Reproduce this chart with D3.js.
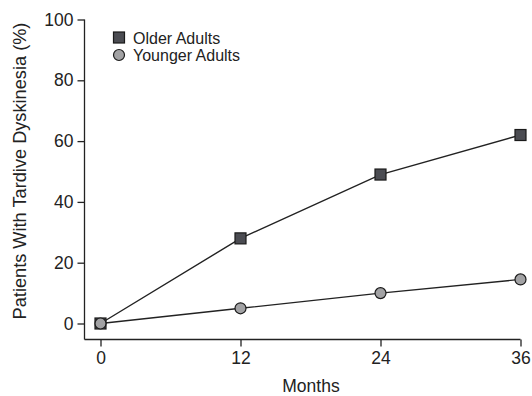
<!DOCTYPE html>
<html>
<head>
<meta charset="utf-8">
<script src="https://cdn.jsdelivr.net/npm/d3@7"></script>
<style>
  html, body { margin: 0; padding: 0; background: #fff; }
  svg { display: block; font-family: "Liberation Sans", Arial, Helvetica, sans-serif; }
</style>
</head>
<body>
<svg id="chart" width="532" height="396"></svg>
<script>
// Months of follow-up
const months = [0, 12, 24, 36];
// Cumulative incidence of tardive dyskinesia (%)
const olderAdults = [0, 28, 49, 62];
const youngerAdults = [0, 5, 10, 14.5];
const yTicks = [0, 20, 40, 60, 80, 100];
const seriesNames = ["Older Adults", "Younger Adults"];

const svg = d3.select("#chart");
const ink = "#222";

// Plot frame
const axisX = 84.5;     // vertical axis position
const axisY = 339.5;    // horizontal axis position
const x = d3.scaleLinear().domain([0, 36]).range([100.5, 520.5]);
const y = d3.scaleLinear().domain([0, 100]).range([323.5, 19.5]);

// Y axis
const yAxis = svg.append("g")
  .attr("transform", `translate(${axisX},0)`)
  .call(d3.axisLeft(y).tickValues(yTicks).tickSize(7).tickPadding(4).tickSizeOuter(0));
yAxis.select(".domain").remove();
yAxis.append("line")
  .attr("x1", 0).attr("x2", 0)
  .attr("y1", y(100)).attr("y2", axisY)
  .attr("stroke", ink).attr("stroke-width", 1.3);

// X axis
const xAxis = svg.append("g")
  .attr("transform", `translate(0,${axisY})`)
  .call(d3.axisBottom(x).tickValues(months).tickSize(7).tickPadding(5).tickSizeOuter(0));
xAxis.select(".domain").remove();
xAxis.append("line")
  .attr("x1", axisX).attr("x2", x(36))
  .attr("y1", 0).attr("y2", 0)
  .attr("stroke", ink).attr("stroke-width", 1.3);

svg.selectAll(".tick line").attr("stroke", ink).attr("stroke-width", 1.3);
svg.selectAll(".tick text")
  .attr("fill", ink)
  .style("font-size", "17.5px")
  .style("font-family", "\"Liberation Sans\", Arial, Helvetica, sans-serif");

// Axis titles
svg.append("text")
  .attr("x", 311).attr("y", 392)
  .attr("text-anchor", "middle")
  .attr("fill", ink)
  .style("font-size", "17.5px")
  .text("Months");

svg.append("text")
  .attr("transform", "translate(26,171) rotate(-90)")
  .attr("text-anchor", "middle")
  .attr("fill", ink)
  .style("font-size", "18.2px")
  .text("Patients With Tardive Dyskinesia (%)");

// Lines
const line = d3.line().x(d => x(d[0])).y(d => y(d[1]));
const olderPts = months.map((m, i) => [m, olderAdults[i]]);
const youngerPts = months.map((m, i) => [m, youngerAdults[i]]);

svg.append("path").datum(olderPts)
  .attr("d", line).attr("fill", "none").attr("stroke", ink).attr("stroke-width", 1.4);
svg.append("path").datum(youngerPts)
  .attr("d", line).attr("fill", "none").attr("stroke", ink).attr("stroke-width", 1.4);

// Markers
const sq = 11;
svg.selectAll(".sq").data(olderPts).enter().append("rect")
  .attr("x", d => x(d[0]) - sq / 2)
  .attr("y", d => y(d[1]) - sq / 2)
  .attr("width", sq).attr("height", sq)
  .attr("fill", "#4b4c52").attr("stroke", "#1a1a1a").attr("stroke-width", 1.2);

svg.selectAll(".ci").data(youngerPts).enter().append("circle")
  .attr("cx", d => x(d[0]))
  .attr("cy", d => y(d[1]))
  .attr("r", 5.5)
  .attr("fill", "#a2a2a4").attr("stroke", "#1a1a1a").attr("stroke-width", 1.2);

// Legend
const legend = svg.append("g");
legend.append("rect")
  .attr("x", 113.5).attr("y", 32).attr("width", 11).attr("height", 11)
  .attr("fill", "#4b4c52").attr("stroke", "#1a1a1a").attr("stroke-width", 1.2);
legend.append("circle")
  .attr("cx", 119).attr("cy", 55).attr("r", 5.5)
  .attr("fill", "#a2a2a4").attr("stroke", "#1a1a1a").attr("stroke-width", 1.2);
legend.selectAll("text").data(seriesNames).enter().append("text")
  .attr("x", 133)
  .attr("y", (d, i) => 43.5 + i * 17)
  .attr("fill", ink)
  .style("font-size", "16px")
  .text(d => d);
</script>
</body>
</html>
